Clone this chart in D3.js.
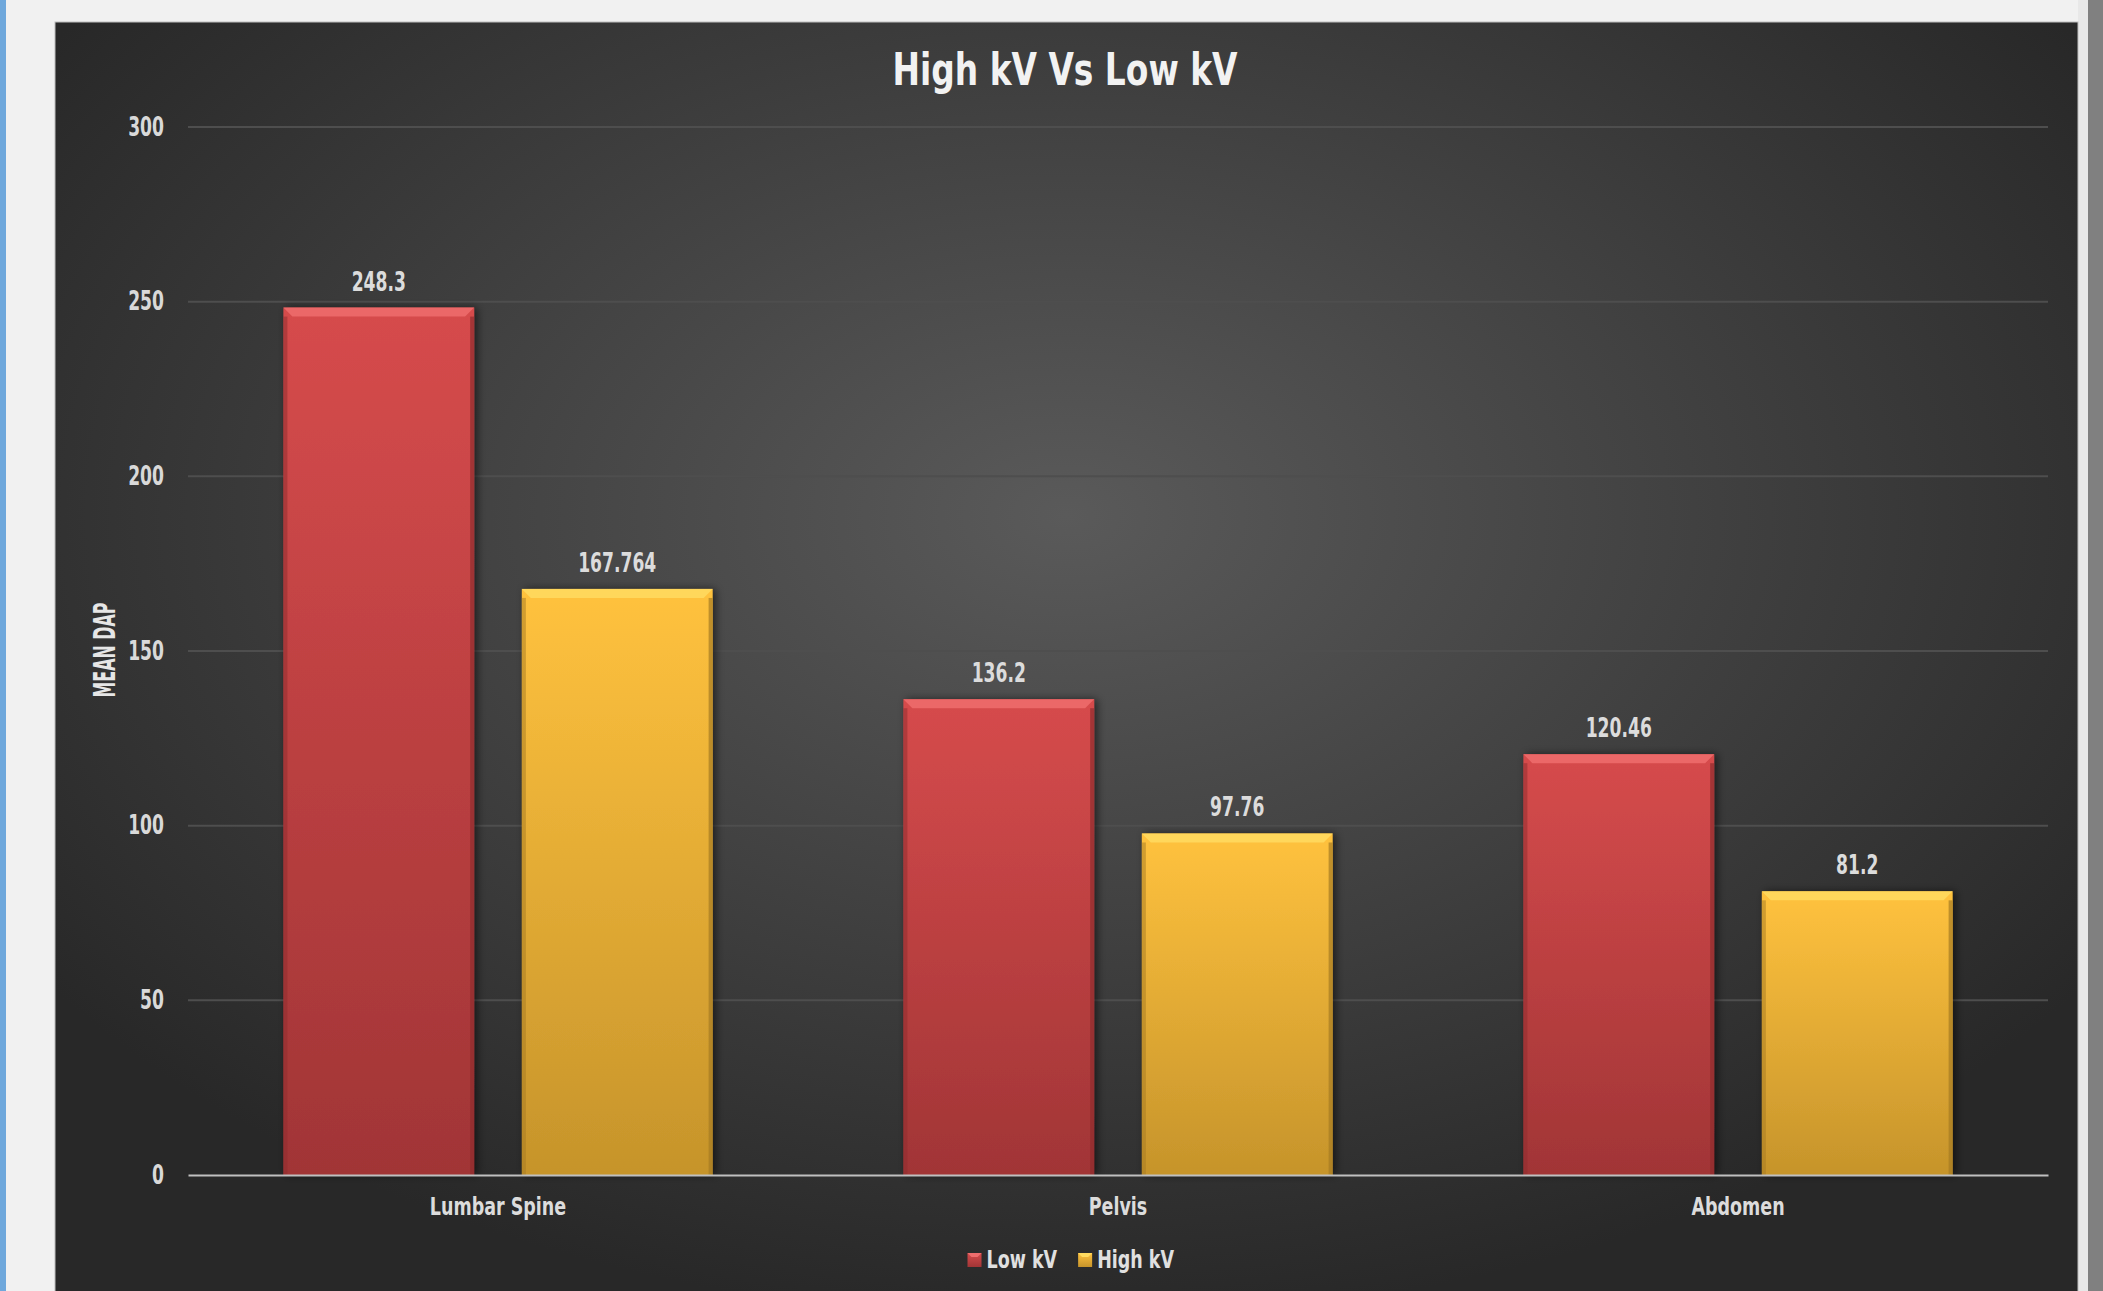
<!DOCTYPE html>
<html>
<head>
<meta charset="utf-8">
<script src="https://cdn.jsdelivr.net/npm/d3@7"></script>
<style>
  html, body { margin: 0; padding: 0; background: #f2f2f2; }
  svg { display: block; }
  .lbl { font-family: "DejaVu Sans", sans-serif; font-weight: bold; }
</style>
</head>
<body>
<svg id="chart" width="2103" height="1291"></svg>
<script>
// chart values
var categories = ["Lumbar Spine", "Pelvis", "Abdomen"];
var seriesNames = ["Low kV", "High kV"];
var lowKV = [248.3, 136.2, 120.46];
var highKV = [167.764, 97.76, 81.2];
var yTicks = [0, 50, 100, 150, 200, 250, 300];

var colors = {
    "Low kV": {top: "#d64b4c", bottom: "#a13536", bevel: "#ee6d6d", edge: "#8e2c2d"},
    "High kV": {top: "#ffc23e", bottom: "#c6942b", bevel: "#ffdb60", edge: "#a57a22"}
};

// squeeze text horizontally, the original uses a narrow heavy face
var condense = function (sel, k) {
    sel.each(function () {
        var w = this.getComputedTextLength();
        d3.select(this).attr("textLength", w * k).attr("lengthAdjust", "spacingAndGlyphs");
    });
};

var svg = d3.select("#chart");
var defs = svg.append("defs");

// page frame
svg.append("rect").attr("x", 0).attr("y", 0).attr("width", 2103).attr("height", 1291).attr("fill", "#f1f1f1");
svg.append("rect").attr("x", 0).attr("y", 0).attr("width", 6).attr("height", 1291).attr("fill", "#6fa8dc");
svg.append("rect").attr("x", 2078).attr("y", 0).attr("width", 10).attr("height", 1291).attr("fill", "#e8e8e8");
svg.append("rect").attr("x", 2088).attr("y", 0).attr("width", 15).attr("height", 1291).attr("fill", "#808080");

// chart background
var bg = defs.append("radialGradient").attr("id", "bgGrad")
    .attr("cx", "50%").attr("cy", "38%").attr("r", "62%");
bg.append("stop").attr("offset", "0%").attr("stop-color", "#5a5a5a");
bg.append("stop").attr("offset", "100%").attr("stop-color", "#282828");

svg.append("rect")
    .attr("x", 55).attr("y", 22)
    .attr("width", 2023).attr("height", 1300)
    .attr("fill", "url(#bgGrad)")
    .attr("stroke", "#bdbdbd").attr("stroke-width", 1);

var shadow = defs.append("filter").attr("id", "shadow")
    .attr("x", "-10%").attr("y", "-10%").attr("width", "130%").attr("height", "120%");
shadow.append("feDropShadow").attr("dx", 3).attr("dy", 0).attr("stdDeviation", 4)
    .attr("flood-color", "#000").attr("flood-opacity", 0.55);

seriesNames.forEach(function (s, i) {
    var g = defs.append("linearGradient").attr("id", "barGrad" + i)
        .attr("x1", 0).attr("y1", 0).attr("x2", 0).attr("y2", 1);
    g.append("stop").attr("offset", "0%").attr("stop-color", colors[s].top);
    g.append("stop").attr("offset", "100%").attr("stop-color", colors[s].bottom);
});

var margin = {left: 188, right: 2048, top: 127, bottom: 1175};

var y = d3.scaleLinear().domain([0, 300]).range([margin.bottom, margin.top]);
var x0 = d3.scaleBand().domain(categories).range([margin.left, margin.right]).padding(0);
var x1 = d3.scaleBand().domain(seriesNames).range([0, x0.bandwidth()])
    .paddingInner(0.2).paddingOuter(0.4);

// title
svg.append("text").attr("class", "lbl")
    .attr("x", 1065).attr("y", 85)
    .attr("text-anchor", "middle")
    .attr("fill", "#f2f2f2")
    .style("font-size", "45px")
    .attr("textLength", 345).attr("lengthAdjust", "spacingAndGlyphs")
    .text("High kV Vs Low kV");

// grid lines
svg.append("g").selectAll("line")
    .data(yTicks.filter(function (d) { return d > 0; }))
    .enter().append("line")
    .attr("x1", margin.left).attr("x2", margin.right)
    .attr("y1", function (d) { return y(d); })
    .attr("y2", function (d) { return y(d); })
    .attr("stroke", "#4e4e4e").attr("stroke-width", 2);

// y axis
var yAxis = svg.append("g")
    .attr("transform", "translate(" + margin.left + ",0)")
    .call(d3.axisLeft(y).tickValues(yTicks).tickSize(0).tickPadding(24));
yAxis.select(".domain").remove();
yAxis.selectAll("text").attr("class", "lbl")
    .attr("fill", "#d9d9d9").style("font-size", "26px");
condense(yAxis.selectAll("text"), 0.66);

svg.append("text").attr("class", "lbl")
    .attr("transform", "translate(115,650) rotate(-90)")
    .attr("text-anchor", "middle")
    .attr("fill", "#e6e6e6")
    .style("font-size", "30px")
    .attr("textLength", 95).attr("lengthAdjust", "spacingAndGlyphs")
    .text("MEAN DAP");

// bars
var rows = categories.map(function (c, i) {
    return [{cat: c, s: "Low kV", v: lowKV[i], k: 0}, {cat: c, s: "High kV", v: highKV[i], k: 1}];
});

var groups = svg.append("g").selectAll("g")
    .data(rows).enter().append("g")
    .attr("transform", function (d) { return "translate(" + x0(d[0].cat) + ",0)"; });

var bars = groups.selectAll("g.bar")
    .data(function (d) { return d; })
    .enter().append("g").attr("class", "bar");

var bw = x1.bandwidth(), bev = 9, side = 4;

bars.append("rect")
    .attr("x", function (d) { return x1(d.s); })
    .attr("y", function (d) { return y(d.v); })
    .attr("width", bw)
    .attr("height", function (d) { return y(0) - y(d.v); })
    .attr("fill", function (d) { return "url(#barGrad" + d.k + ")"; })
    .attr("filter", "url(#shadow)");

// top bevel
bars.append("path")
    .attr("d", function (d) {
        var x = x1(d.s), t = y(d.v);
        return "M" + x + "," + t + "H" + (x + bw) + "L" + (x + bw - bev) + "," + (t + bev) +
            "H" + (x + bev) + "Z";
    })
    .attr("fill", function (d) { return colors[d.s].bevel; })
    .attr("opacity", 0.85);

// side edges
bars.append("rect")
    .attr("x", function (d) { return x1(d.s); })
    .attr("y", function (d) { return y(d.v) + bev; })
    .attr("width", side)
    .attr("height", function (d) { return y(0) - y(d.v) - bev; })
    .attr("fill", function (d) { return colors[d.s].edge; })
    .attr("opacity", 0.5);
bars.append("rect")
    .attr("x", function (d) { return x1(d.s) + bw - side; })
    .attr("y", function (d) { return y(d.v) + bev; })
    .attr("width", side)
    .attr("height", function (d) { return y(0) - y(d.v) - bev; })
    .attr("fill", function (d) { return colors[d.s].edge; })
    .attr("opacity", 0.7);

// value labels
var vals = bars.append("text").attr("class", "lbl")
    .attr("x", function (d) { return x1(d.s) + bw / 2; })
    .attr("y", function (d) { return y(d.v) - 17; })
    .attr("text-anchor", "middle")
    .attr("fill", "#dcdcdc")
    .style("font-size", "26px")
    .text(function (d) { return String(d.v); });
condense(vals, 0.66);

// x axis
var xAxis = svg.append("g")
    .attr("transform", "translate(0," + margin.bottom + ")")
    .call(d3.axisBottom(x0).tickSize(0).tickPadding(22));
xAxis.select(".domain").attr("stroke", "#c0c0c0").attr("stroke-width", 2);
xAxis.selectAll("text").attr("class", "lbl")
    .attr("fill", "#dcdcdc").style("font-size", "25px");
condense(xAxis.selectAll("text"), 0.7);

// legend
var legend = svg.append("g");
var lx = 0;
seriesNames.forEach(function (s, i) {
    var item = legend.append("g").attr("transform", "translate(" + lx + ",0)");
    item.append("rect").attr("x", 0).attr("y", -15).attr("width", 14).attr("height", 14)
        .attr("fill", "url(#barGrad" + i + ")");
    item.append("path").attr("d", "M0,-15H14L10,-11H4Z").attr("fill", colors[s].bevel);
    var t = item.append("text").attr("class", "lbl")
        .attr("x", 19).attr("y", 0)
        .attr("fill", "#e0e0e0")
        .style("font-size", "25px")
        .text(s);
    condense(t, 0.7);
    lx += 19 + (+t.attr("textLength")) + 21;
});
var lb = legend.node().getBBox();
legend.attr("transform", "translate(" + (1071 - lb.width / 2 - lb.x) + ",1268)");
</script>
</body>
</html>
